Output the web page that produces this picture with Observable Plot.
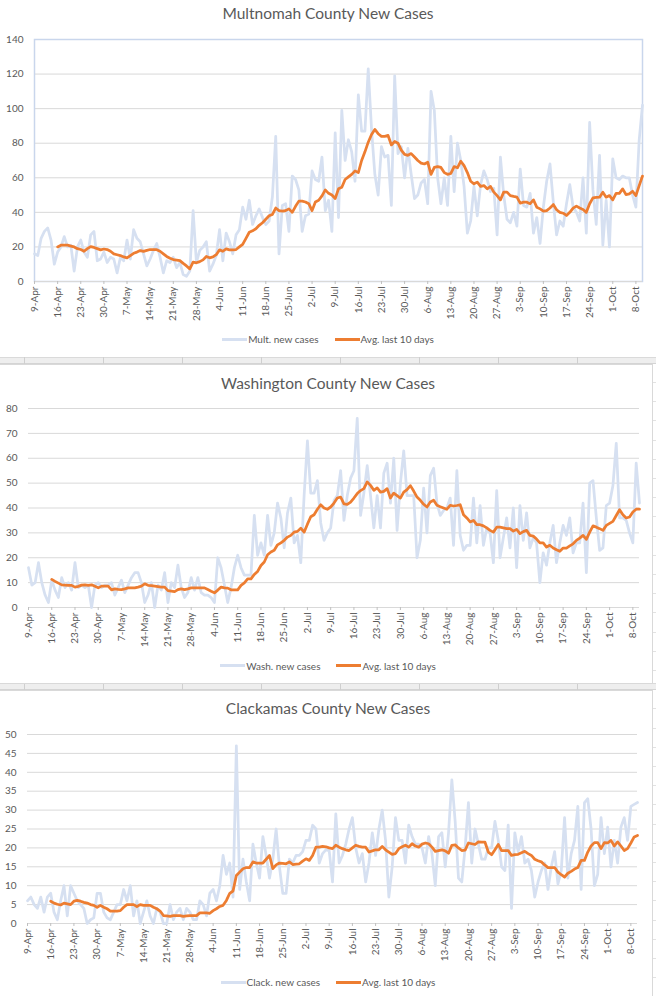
<!DOCTYPE html>
<html><head><meta charset="utf-8">
<script src="https://cdn.jsdelivr.net/npm/d3@7"></script>
<script src="https://cdn.jsdelivr.net/npm/@observablehq/plot@0.6"></script>
<style>
body{margin:0;background:#fff;}
#page{position:relative;width:656px;height:996px;overflow:hidden;font-family:Lato,"Open Sans",sans-serif;color:#595959;background:#fff;}
.title{position:absolute;left:0;width:656px;text-align:center;font-size:15.5px;line-height:15.5px;color:#595959;white-space:nowrap;}
.legend{position:absolute;left:0;width:656px;height:10px;display:flex;justify-content:center;align-items:center;font-size:10px;line-height:10px;gap:16px;color:#595959;}
.legend .item{display:flex;align-items:center;white-space:nowrap;}
.legend .sw{width:25px;height:3px;margin-right:1px;}
.svgbox{position:absolute;left:0;}
.deco{position:absolute;}
</style></head><body><div id="page"></div>
<script>
// ---------- data ----------
const startDate = "2020-04-09";      // first daily value
const avgStartDate = "2020-04-16";   // first 10-day average value

const multNew = [
16,15,25,29,31,24,10,17,20,26,
20,21,6,20,24,17,14,27,29,12,
13,17,11,14,13,5,14,12,24,13,
30,25,23,16,9,13,18,22,14,5,
12,11,14,8,11,4,3,6,41,11,
18,20,23,6,10,15,30,12,28,23,
16,27,30,43,36,47,33,38,42,37,
33,35,49,84,16,44,45,29,61,59,
53,29,38,39,64,59,58,72,41,47,
29,86,37,99,70,82,75,58,108,87,
87,123,88,62,50,78,72,73,44,119,
74,78,60,77,62,48,50,57,59,45,
110,99,60,45,60,44,84,52,80,70,
55,28,35,55,38,56,64,59,52,54,
27,72,50,36,34,40,32,65,44,43,
51,28,37,22,43,58,68,46,27,35,
32,45,56,43,40,35,60,28,92,53,
33,73,21,47,20,71,60,59,61,60,
60,50,43,82,102];

const multAvg = [
20,21,21,21,20.5,20,19,18.5,17.5,19,
20.2,19.7,19,18.3,18.8,18.5,17.5,16,15.5,15,
14.2,13.7,15,16.3,17,17.9,17.4,18,18.5,18.5,
18.4,17.5,16,14.5,13.5,12.7,12.4,12.1,10.5,9,
7.3,11.2,10.8,11.5,12.5,14.5,13.7,14.2,15.5,18.3,
17.5,18.9,18.3,18.3,18.5,20,21.5,25,28.5,29.3,
30.5,32.5,34,36,38,38.8,42.5,41,40.7,41,
42,40,43.5,46.5,46.5,46,45,41,46,47,
49.5,53,51,50,48,53.6,54.5,59,60.5,62,
64,63,70,75,80.6,85,88,85.5,84,84,
84.5,79,81,80,76,73.5,73,74,72,70,
68.5,68,69,62,66,66.5,66,63,62,62.5,
66.5,65.8,69.6,67,63,58,56.5,57.5,55,55.5,
53.6,55,51.7,49.7,47.2,51.7,51.7,49.7,49.2,48.8,
45.3,45.9,45.9,45,47.2,43,42,40.7,41,42.5,
44.5,41.5,40,39.5,38.2,40,42.4,43.6,42.5,41.7,
40,45,48.4,48.6,48.8,51.7,48.8,49.7,47.2,51,
51,53.6,50.3,50.7,52.2,49.7,55.5,61];

const washNew = [
16,9,10,18,10,5,2,11,7,4,
12,8,10,7,18,8,9,8,9,0,
9,10,8,9,9,10,5,8,11,6,
9,12,14,14,10,2,5,10,0,9,
7,14,2,10,8,17,8,4,6,12,
7,12,6,5,5,4,2,20,16,9,
2,8,16,21,16,13,13,13,37,21,
26,21,37,25,30,42,36,24,38,44,
26,29,18,45,67,46,46,51,34,27,
30,32,43,45,55,35,45,52,55,76,
37,46,57,45,32,45,32,54,58,42,
60,31,50,63,45,45,45,20,27,48,
30,53,56,42,37,39,40,44,25,55,
29,23,25,25,44,26,41,25,32,30,
18,47,20,28,36,24,40,16,41,27,
38,24,28,26,10,22,17,26,33,18,
26,33,29,36,22,26,26,42,14,50,
51,36,23,24,41,42,49,66,36,36,
35,30,26,58,42];

const washAvg = [
11.3,10.5,9.8,9.1,9,8.9,8.9,8.2,8.5,9,
9.1,8.9,9.1,8.5,7.9,8.6,8.6,8.6,7.1,7.5,
7.3,7.2,7.5,7.9,7.9,7.9,8.2,8.6,9.5,8.9,
8.8,8.6,8.4,8.2,8.2,6.8,6.6,6.4,7.2,7.5,
7.2,7.5,7.9,7.9,7.9,7.9,7.9,7.2,6.5,5.9,
7,8.2,7.9,7.8,7.1,7.1,7.1,8.9,9.9,11.5,
11.5,13.3,14.5,16.9,18.3,21.2,22.3,23,25.2,26,
27,28.3,29,30.3,30.6,31.9,30.3,33.5,36.5,37.3,
39.5,41.3,40,39.5,40.4,42,44,44.4,41.7,41.5,
42.4,44,45.8,47,47.8,50.5,49.1,47.1,48.1,46.4,
46.7,47.8,44,46,45,44,46.4,47.4,49,46.8,
44.4,43.1,41.5,40.4,42.4,43.1,41.1,40.5,40,39.5,
41.1,40.8,41,41.3,37.3,36,34.4,35,33.3,33.3,
32.8,32,31,30.3,32.3,32.3,32,31.7,31.7,30.7,
31.4,29.7,30.5,31,29,28.7,27.5,26,26,24.3,
25,23.9,23.2,22.6,23.9,23.9,24.8,25.6,27,27.9,
29,27.4,30.3,32.8,32.3,31.7,31,33,33.8,34.6,
37,39.3,37.3,36,36.4,38.4,39.5,39.5];

const clackNew = [
6,7,5,4,7,3,7,8,3,1,
6,10,2,10,8,6,5,4,0,1,
1.5,8,8,3,1.5,1,3,5,5,9,
6,10,2,6,0,3,6,2,0,4,
3,0,0,5,1,3,4,1,4,3,
1,1,6,5,2,8,9,6,10,18,
13,16,7,47,9,17,11,6,21,16,
12,23,18,12,17,25,15,8,8,17,
16,18,18,19,22,22,26,25,16,18.5,
19.5,19.3,11,29,16,18,21,25,28,20,
16,18.5,11,16,24,18,25,30,22,7,
15,28,22,22,16,26,23,21,21,20,
16,23,18.5,10,23,24,15,24,38,27,
12,11,20,32,16,25,21,17,17,20,
20,27,22,15,14,26,4,24,19,23,
16,17,14,7,11,14,16,9,15,19,
10.5,14,28,12,18.5,22,31,9,32,33,
25,10,13,28,18.5,25.5,15,22,16,25.5,
28,22,31,31.5,32];

const clackAvg = [
5.9,5.4,5.1,4.9,5.4,5.2,5,5.9,6.1,5.9,
5.6,5.4,5,4.8,4.3,4.8,4.3,3.9,3.3,3.3,
3.3,3.4,4.3,5,5,5,4.5,5,4.8,4.8,
4.8,4.3,3.9,3.3,2.1,2,1.9,2.1,2.1,2.1,
1.9,2,2.1,2.1,2.1,2.8,2.8,2.8,2.7,3.4,
3.9,4.5,4.8,6.1,8,8.6,12.7,13.6,14.5,14.8,
14.8,16.3,16,16,16,17,18,14.5,15.5,16,
15.9,15.8,16.3,15.6,15.7,15.8,16.5,17.1,16.7,18,
20.2,20.2,20.4,20.3,20,19.8,20.7,20.2,19.8,19.5,
19.3,20,20.7,20.4,20.2,20.2,18.9,19.2,19.5,19.5,
20.4,19.5,18.9,18.3,18.5,19.8,20.3,20.7,20.2,21.1,
20.5,20.2,21,21.3,21.1,20.2,19.1,19.3,19.5,19.2,
18.6,20.7,20.8,20,19.3,19.4,21.3,21.1,20.9,21.6,
21.5,21.5,18.9,18.2,19.5,20.9,19.3,19.3,19.3,18,
18.2,18.3,18.7,19.1,18.5,18,17,16.6,16.3,15.5,
14.8,14.8,14.8,13.6,12.9,12.3,13.3,13.8,14.4,14.8,
16.7,16.7,18.9,20.5,21.4,21.4,19.8,21.4,21.3,22,
20.5,21.6,20.5,19.3,19.8,21.3,22.9,23.3];

const tickLabels = ["9-Apr","16-Apr","23-Apr","30-Apr","7-May","14-May","21-May","28-May",
  "4-Jun","11-Jun","18-Jun","25-Jun","2-Jul","9-Jul","16-Jul","23-Jul","30-Jul",
  "6-Aug","13-Aug","20-Aug","27-Aug","3-Sep","10-Sep","17-Sep","24-Sep","1-Oct","8-Oct"];

const multTicks = [0,20,40,60,80,100,120,140];
const washTicks = [0,10,20,30,40,50,60,70,80];
const clackTicks = [0,5,10,15,20,25,30,35,40,45,50];

const titles = ["Multnomah County New Cases","Washington County New Cases","Clackamas County New Cases"];
const rawNames = ["Mult. new cases","Wash. new cases","Clack. new cases"];
const avgName = "Avg. last 10 days";

// ---------- helpers ----------
const LIGHT = "#d6e0f1", ORANGE = "#ed7d31", GRID = "#d9d9d9", TEXT = "#595959";
const parseISO = d3.utcParse("%Y-%m-%d");
const parseTick = d3.utcParse("%d-%b-%Y");
const t0 = parseISO(startDate), tA = parseISO(avgStartDate);
const tickDates = tickLabels.map(s => parseTick(s + "-2020"));
const fmt = d3.utcFormat("%-d-%b");
const series = (arr, t) => arr.map((v, i) => ({date: d3.utcDay.offset(t, i), v}));

const page = document.getElementById("page");

function addDiv(cls, style, html) {
  const d = document.createElement("div");
  if (cls) d.className = cls;
  Object.assign(d.style, style);
  if (html != null) d.innerHTML = html;
  page.appendChild(d);
  return d;
}

// spreadsheet decoration (cell row bands between charts, frames, right-side rows)
function band(top) {
  addDiv("deco", {left: "0px", top: top + "px", width: "656px", height: "5px",
    background: "#eeeeee", borderTop: "1px solid #dadada", borderBottom: "1px solid #d4d4d4"});
  for (let x = 24; x < 656; x += 79)
    addDiv("deco", {left: x + "px", top: top + "px", width: "1px", height: "7px", background: "#cfcfcf"});
}
band(357);
band(683);
addDiv("deco", {left: "-2px", top: "364px", width: "653px", height: "318px", border: "1px solid #d9d9d9"});
addDiv("deco", {left: "-2px", top: "690px", width: "653px", height: "320px", border: "1px solid #d9d9d9"});
for (let y = 382; y < 996; y += 19.2) {
  if (y > 680 && y < 692) continue;
  addDiv("deco", {left: "653px", top: y + "px", width: "4px", height: "1px", background: "#e2e2e2"});
}

function chart(cfg) {
  const raw = series(cfg.raw, t0);
  const avg = series(cfg.avg, tA);
  const plotH = cfg.height;
  const svg = Plot.plot({
    width: 656,
    height: plotH,
    marginTop: cfg.mt, marginBottom: cfg.mb, marginLeft: cfg.ml, marginRight: cfg.mr,
    style: {fontFamily: "Lato, 'Open Sans', sans-serif", fontSize: "10px", color: TEXT, background: "transparent", overflow: "visible"},
    x: {type: "utc", domain: [raw[0].date, raw[raw.length - 1].date], label: null},
    y: {domain: [0, cfg.ticks[cfg.ticks.length - 1]], label: null},
    marks: [
      Plot.ruleY(cfg.ticks, {stroke: GRID, strokeWidth: 1}),
      cfg.frame ? Plot.frame({stroke: "#c9d6ec", strokeWidth: 1.5}) : null,
      Plot.ruleY([0], {stroke: GRID, strokeWidth: 1.2}),
      Plot.axisY({ticks: cfg.ticks, tickSize: 0, tickPadding: 11, fill: TEXT, fontSize: 10, label: null}),
      Plot.axisX({ticks: tickDates, tickFormat: fmt, tickRotate: -90, tickSize: 3, tickPadding: 2,
                  stroke: "#bfbfbf", fill: TEXT, fontSize: 10, label: null}),
      Plot.line(raw, {x: "date", y: "v", stroke: LIGHT, strokeWidth: 2.75, strokeLinejoin: "round", strokeLinecap: "round"}),
      Plot.line(avg, {x: "date", y: "v", stroke: ORANGE, strokeWidth: 2.75, strokeLinejoin: "round", strokeLinecap: "round"})
    ]
  });
  const box = addDiv("svgbox", {top: cfg.top + "px"});
  box.appendChild(svg);
  addDiv("title", {top: cfg.titleTop + "px"}, cfg.title);
  addDiv("legend", {top: cfg.legendTop + "px"},
    `<div class="item"><div class="sw" style="background:${LIGHT}"></div>${cfg.rawName}</div>` +
    `<div class="item"><div class="sw" style="background:${ORANGE}"></div>${avgName}</div>`);
}

chart({raw: multNew, avg: multAvg, ticks: multTicks, title: titles[0], rawName: rawNames[0],
  top: 28, height: 305, mt: 11, mb: 52, ml: 34, mr: 14, frame: true, titleTop: 6, legendTop: 334});
chart({raw: washNew, avg: washAvg, ticks: washTicks, title: titles[1], rawName: rawNames[1],
  top: 396, height: 251, mt: 12, mb: 40, ml: 28, mr: 17, frame: false, titleTop: 375.5, legendTop: 660.5});
chart({raw: clackNew, avg: clackAvg, ticks: clackTicks, title: titles[2], rawName: rawNames[2],
  top: 722, height: 245, mt: 12, mb: 44, ml: 27, mr: 19, frame: false, titleTop: 701, legendTop: 977});
</script></body></html>
